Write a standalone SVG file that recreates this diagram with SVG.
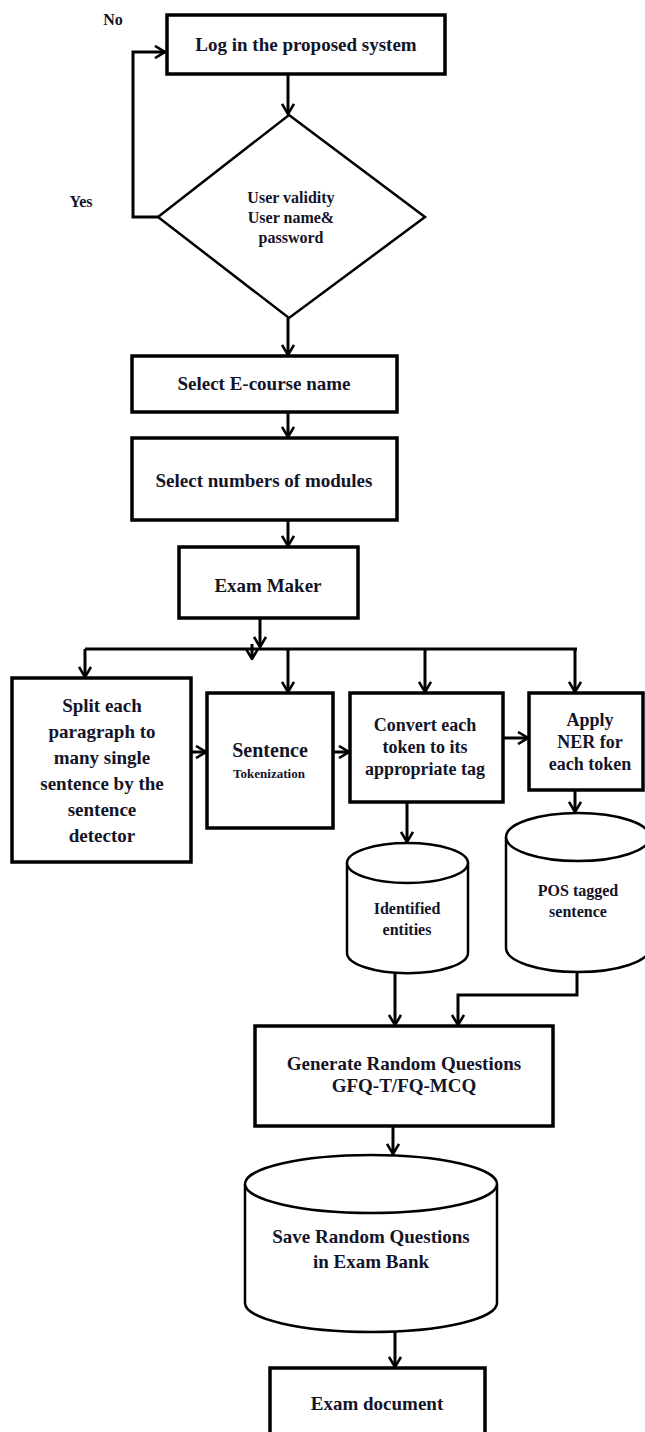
<svg xmlns="http://www.w3.org/2000/svg" width="645" height="1432" viewBox="0 0 645 1432">
<style>
.box{fill:#fff;stroke:#000;stroke-width:3.5}
.thin{fill:#fff;stroke:#000;stroke-width:2.5}
.t{font-family:"Liberation Serif","Times New Roman",serif;font-weight:bold;font-size:19px;fill:#141428;text-anchor:middle}
.s16{font-size:16px}
.s18{font-size:18px}
.c{fill:none;stroke:#000;stroke-width:3}
</style>
<defs>
<marker id="arr" viewBox="0 0 12 14" refX="11" refY="7" markerWidth="12" markerHeight="14" markerUnits="userSpaceOnUse" orient="auto">
<path d="M1,1 L11,7 L1,13" fill="none" stroke="#000" stroke-width="2.6"/>
</marker>
</defs>
<g id="connectors">
<path class="c" d="M158,217 L133,217 L133,52 L165,52" marker-end="url(#arr)"/>
<path class="c" d="M288,74 L288,114" marker-end="url(#arr)"/>
<path class="c" d="M288,318 L288,355" marker-end="url(#arr)"/>
<path class="c" d="M288,412 L288,437" marker-end="url(#arr)"/>
<path class="c" d="M288,520 L288,546" marker-end="url(#arr)"/>
<path class="c" d="M260,618 L260,647" marker-end="url(#arr)"/>
<path class="c" d="M252,644 L252,659" marker-end="url(#arr)"/>
<path class="c" d="M85,649 L577,649"/>
<path class="c" d="M85,649 L85,677" marker-end="url(#arr)"/>
<path class="c" d="M288,649 L288,692" marker-end="url(#arr)"/>
<path class="c" d="M425,649 L425,692" marker-end="url(#arr)"/>
<path class="c" d="M575,649 L575,692" marker-end="url(#arr)"/>
<path class="c" d="M191,752 L206,752" marker-end="url(#arr)"/>
<path class="c" d="M333,752 L349,752" marker-end="url(#arr)"/>
<path class="c" d="M503,738 L528,738" marker-end="url(#arr)"/>
<path class="c" d="M407,802 L407,842" marker-end="url(#arr)"/>
<path class="c" d="M575,790 L575,812" marker-end="url(#arr)"/>
<path class="c" d="M395,973 L395,1025" marker-end="url(#arr)"/>
<path class="c" d="M577,972 L577,995 L458,995 L458,1025" marker-end="url(#arr)"/>
<path class="c" d="M393,1126 L393,1154" marker-end="url(#arr)"/>
<path class="c" d="M395,1332 L395,1367" marker-end="url(#arr)"/>
</g>
<g id="label-no"><text class="t s16" x="113" y="25">No</text></g>
<g id="label-yes"><text class="t s16" x="81" y="207">Yes</text></g>
<g id="login">
<rect class="box" x="167" y="15" width="278" height="59"/>
<text class="t" x="306" y="51">Log in the proposed system</text>
</g>
<g id="validity">
<polygon class="thin" points="289,115 425,217 289,318 158,217"/>
<text class="t s16" x="291" y="203">User validity</text>
<text class="t s16" x="291" y="223">User name&amp;</text>
<text class="t s16" x="291" y="243">password</text>
</g>
<g id="ecourse">
<rect class="box" x="132" y="356" width="265" height="56"/>
<text class="t" x="264" y="390">Select E-course name</text>
</g>
<g id="modules">
<rect class="box" x="132" y="438" width="265" height="82"/>
<text class="t" x="264" y="487">Select numbers of modules</text>
</g>
<g id="exammaker">
<rect class="box" x="179" y="547" width="179" height="71"/>
<text class="t" x="268" y="592">Exam Maker</text>
</g>
<g id="split">
<rect class="box" x="12" y="678" width="179" height="184"/>
<text class="t" x="102" y="712">Split each</text>
<text class="t" x="102" y="738">paragraph to</text>
<text class="t" x="102" y="764">many single</text>
<text class="t" x="102" y="790">sentence by the</text>
<text class="t" x="102" y="816">sentence</text>
<text class="t" x="102" y="842">detector</text>
</g>
<g id="sentence">
<rect class="box" x="207" y="693" width="126" height="135"/>
<text class="t" x="270" y="757" style="font-size:20px">Sentence</text>
<text class="t" x="269" y="778" style="font-size:13px">Tokenization</text>
</g>
<g id="convert">
<rect class="box" x="350" y="693" width="153" height="109"/>
<text class="t s18" x="425" y="731">Convert each</text>
<text class="t s18" x="425" y="753">token to its</text>
<text class="t s18" x="425" y="775">appropriate tag</text>
</g>
<g id="apply">
<rect class="box" x="529" y="693" width="114" height="97"/>
<text class="t s18" x="590" y="726">Apply</text>
<text class="t s18" x="590" y="748">NER for</text>
<text class="t s18" x="590" y="770">each token</text>
</g>
<g id="identified">
<path class="thin" d="M347,863 L347,953 A60,20 0 0 0 468,953 L468,863"/>
<ellipse class="thin" cx="407.5" cy="863" rx="60.5" ry="20"/>
<text class="t s16" x="407" y="914">Identified</text>
<text class="t s16" x="407" y="935">entities</text>
</g>
<g id="pos">
<path class="thin" d="M506,837 L506,948 A72,24 0 0 0 650,948 L650,837"/>
<ellipse class="thin" cx="578" cy="837" rx="72" ry="24"/>
<text class="t s16" x="578" y="896">POS tagged</text>
<text class="t s16" x="578" y="917">sentence</text>
</g>
<g id="generate">
<rect class="box" x="255" y="1026" width="298" height="100"/>
<text class="t" x="404" y="1070">Generate Random Questions</text>
<text class="t" x="404" y="1092">GFQ-T/FQ-MCQ</text>
</g>
<g id="save">
<path class="thin" d="M245,1184 L245,1303 A126,29 0 0 0 497,1303 L497,1184"/>
<ellipse class="thin" cx="371" cy="1184" rx="126" ry="29"/>
<text class="t" x="371" y="1243">Save Random Questions</text>
<text class="t" x="371" y="1268">in Exam Bank</text>
</g>
<g id="examdoc">
<rect class="box" x="270" y="1368" width="215" height="80"/>
<text class="t" x="377" y="1410">Exam document</text>
</g>
</svg>
